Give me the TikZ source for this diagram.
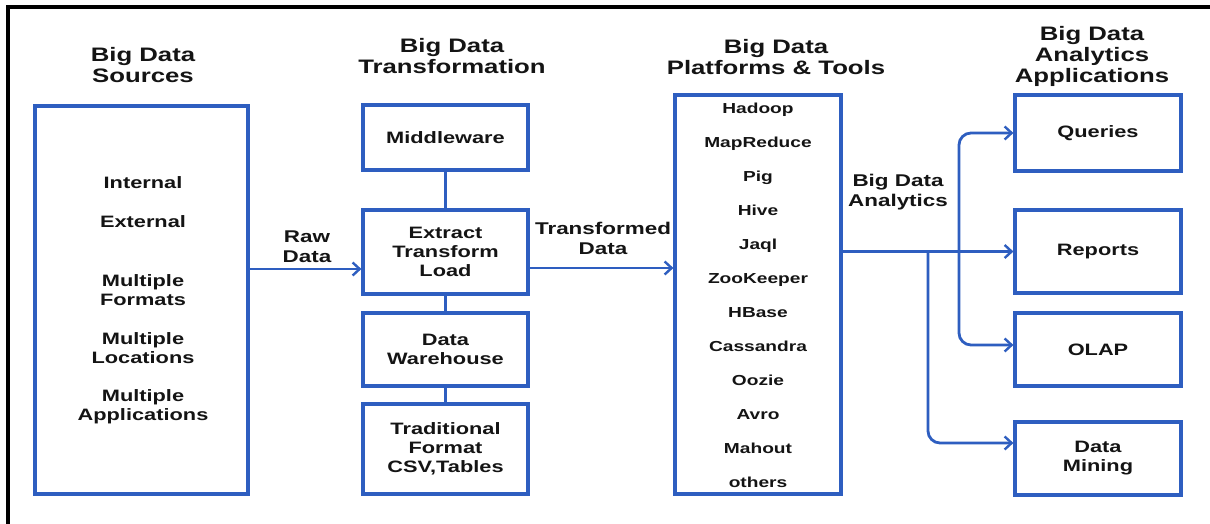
\documentclass[tikz,border=0pt]{standalone}
\usepackage{fontspec}
\setmainfont{Liberation Sans}[FakeStretch=1.32]
\usetikzlibrary{arrows.meta,calc}
\definecolor{lineblue}{RGB}{46,94,192}
\definecolor{txt}{RGB}{20,20,20}
\tikzset{
  box/.style={draw=lineblue, line width=3.2pt, rectangle, inner sep=0pt, text=txt,
    align=center, font=\fontsize{16.5}{19}\selectfont\bfseries},
  title/.style={align=center, text=txt, inner sep=0pt, font=\fontsize{19.5}{21}\selectfont\bfseries},
  lbl/.style={align=center, text=txt, inner sep=0pt, font=\fontsize{17}{20}\selectfont\bfseries},
  item/.style={text=txt, inner sep=0pt, font=\fontsize{16.5}{19}\selectfont\bfseries, align=center},
  tool/.style={text=txt, inner sep=0pt, text height=10.5pt, text depth=3pt,
    font=\fontsize{14.5}{17}\selectfont\bfseries},
  conn/.style={draw=lineblue, line width=2.8pt},
  arr/.style={conn, -{Straight Barb[length=7pt,width=13pt,line width=2.4pt]}},
  frame/.style={draw=black, line width=3.2pt}
}
\begin{document}
\begin{tikzpicture}[x=1pt,y=-1pt]
\useasboundingbox (0,0) rectangle (1210,524);
\fill[white] (0,0) rectangle (1210,524);
% frame
\coordinate (f1) at (8,524);
\coordinate (f2) at (8,7);
\coordinate (f3) at (1210,7);
\draw[frame] (f1) -- (f2) -- (f3);

% titles
\node[title] (t1) at (143,65.5) {Big Data\\Sources};
\node[title] (t2) at (452,56.5) {Big Data\\Transformation};
\node[title] (t3) at (776,57) {Big Data\\Platforms \& Tools};
\node[title] (t4) at (1092,56) {Big Data\\Analytics\\Applications};

% sources
\node[box, minimum width=213pt, minimum height=388pt] (src) at (141.5,300) {};
\node[item] (s1) at (143,183) {Internal};
\node[item] (s2) at (143,222) {External};
\node[item] (s3) at (143,290) {Multiple\\Formats};
\node[item] (s4) at (143,348) {Multiple\\Locations};
\node[item] (s5) at (143,406.5) {Multiple\\Applications};

% transformation
\node[box, minimum width=165pt, minimum height=65pt] (mw) at (445.5,137.5) {Middleware};
\node[box, minimum width=165pt, minimum height=84pt] (etl) at (445.5,252) {Extract\\Transform\\Load};
\node[box, minimum width=165pt, minimum height=73pt] (dw) at (445.5,349.5) {Data\\Warehouse};
\node[box, minimum width=165pt, minimum height=90pt] (tf) at (445.5,449) {Traditional\\Format\\CSV,Tables};
\draw[conn] (mw) -- (etl);
\draw[conn] (etl) -- (dw);
\draw[conn] (dw) -- (tf);

% platforms
\node[box, minimum width=166pt, minimum height=399pt] (plat) at (758,294.5) {};
\foreach \t [count=\i from 0] in {Hadoop,MapReduce,Pig,Hive,Jaql,ZooKeeper,HBase,Cassandra,Oozie,Avro,Mahout,others}{
  \node[tool] (p\i) at (758,109.5+34*\i) {\t};
}

% applications
\node[box, minimum width=166pt, minimum height=76pt] (q) at (1098,133) {Queries};
\node[box, minimum width=166pt, minimum height=83pt] (rep) at (1098,251.5) {Reports};
\node[box, minimum width=166pt, minimum height=73pt] (olap) at (1098,349.5) {OLAP};
\node[box, minimum width=166pt, minimum height=73pt] (dm) at (1098,458.5) {Data\\Mining};

% labels
\node[lbl] (l1) at (307,246.5) {Raw\\Data};
\node[lbl] (l2) at (603,238.5) {Transformed\\Data};
\node[lbl] (l3) at (898,192) {Big Data\\Analytics};

% connectors
\coordinate (ra) at ([yshift=-17pt]etl.west);
\draw[arr] (src.east |- ra) -- (ra);
\coordinate (ta) at ([yshift=-16pt]plat.west |- etl.west);
\draw[arr] (etl.east |- ta) -- (ta);
\draw[arr] (plat.east |- rep.west) -- (rep.west);
\coordinate (j1) at (928,251.5);
\coordinate (j2) at (959,251.5);
\coordinate (dma) at ([yshift=15.5pt]dm.west);
\draw[arr, rounded corners=12pt] (j1) |- (dma);
\draw[arr, rounded corners=12pt] (j2) |- (q.west);
\draw[arr, rounded corners=12pt] (j2) |- ([yshift=4.5pt]olap.west);
\end{tikzpicture}
\end{document}
